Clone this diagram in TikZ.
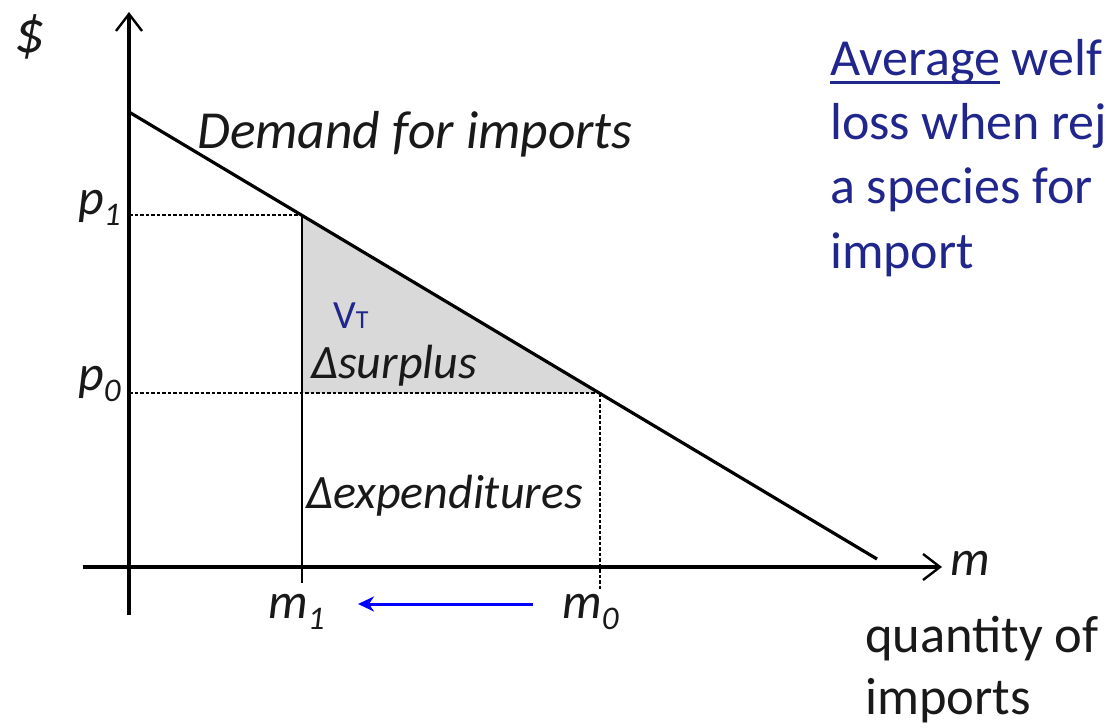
\documentclass[tikz,border=0pt]{standalone}
\usepackage{fontspec}
\setmainfont{Carlito}
\usetikzlibrary{arrows.meta}
\definecolor{navy}{RGB}{32,38,140}
\definecolor{areagray}{RGB}{217,217,217}
\definecolor{ink}{RGB}{25,25,25}
\newcommand\mysub[1]{\raisebox{-11pt}{\fontsize{33}{33}\selectfont #1}}
\newcommand\thickul[1]{\setbox0\hbox{#1}\rlap{\raisebox{-9pt}{\rule{\wd0}{3pt}}}\box0\relax}
\begin{document}
\begin{tikzpicture}[x=1pt,y=-1pt,
  axis/.style={line width=3.2pt,-{Straight Barb[length=17pt,width=26pt,line width=2.4pt]}},
  demand/.style={line width=3.2pt},
  guide/.style={line width=1.2pt,dash pattern=on 3.5pt off 2pt},
  vline/.style={line width=1.6pt},
  lbl/.style={inner sep=0pt,anchor=base west,text=ink,font=\fontsize{50}{60}\selectfont\itshape},
  area/.style={inner sep=0pt,anchor=base west,text=ink,font=\fontsize{48}{56}\selectfont\itshape},
  note/.style={inner sep=0pt,anchor=base west,text=navy,font=\fontsize{52}{64}\selectfont},
  plain/.style={inner sep=0pt,anchor=base west,text=ink,font=\fontsize{52.5}{64}\selectfont},
  move/.style={blue,line width=3pt,-{Stealth[length=16pt,width=15pt,inset=5pt]}}]
\useasboundingbox (0,0) rectangle (1109,728);
% key points
\coordinate (O) at (129,567);
\coordinate (xl) at (83,567);
\coordinate (xr) at (942,567);
\coordinate (yb) at (129,615);
\coordinate (yt) at (129,12);
\coordinate (d0) at (129,112);
\coordinate (d1) at (877,559);
\coordinate (P1) at (302,215);
\coordinate (P0) at (600,393);
\coordinate (c1) at (302,393);
\coordinate (a1) at (129,215);
\coordinate (a0) at (129,393);
\coordinate (b1) at (302,583);
\coordinate (b0) at (600,590);
\coordinate (s) at (533,604);
\coordinate (e) at (358,604);
% surplus area
\fill[areagray] (P1) -- (c1) -- (P0) -- cycle;
% guides
\draw[guide] (a1) -- (P1);
\draw[guide] (a0) -- (P0);
\draw[guide] (P0) -- (b0);
\draw[vline] (P1) -- (b1);
% axes and demand
\draw[axis] (xl) -- (xr);
\draw[axis] (yb) -- (yt);
\draw[demand] (d0) -- (d1);
\draw[move] (s) -- (e);
% labels
\node[lbl,font=\fontsize{60}{70}\selectfont\itshape] (dollar) at (14,52) {\$};
\node[lbl,font=\fontsize{53.5}{64}\selectfont\itshape] (dem) at (197,148) {Demand for imports};
\node[lbl] (p1) at (78,214) {p\mysub{1}};
\node[lbl] (p0) at (78,390) {p\mysub{0}};
\node[lbl] (m1) at (268,618) {m\mysub{1}};
\node[lbl] (m0) at (562,618) {m\mysub{0}};
\node[lbl] (mlab) at (950,575) {m};
\node[inner sep=0pt,anchor=base west,text=navy,font=\fontsize{40}{48}\selectfont] (vt) at (333,328) {V{\fontsize{26}{30}\selectfont T}};
\node[area] (surp) at (311,378) {Δsurplus};
\node[area] (expd) at (306,508) {Δexpenditures};
\node[note] (r1) at (830,75) {\thickul{Average} welf};
\node[note] (r2) at (830,139) {loss when rej};
\node[note] (r3) at (830,203) {a species for};
\node[note] (r4) at (830,268) {import};
\node[plain] (q1) at (865,652) {quantity of};
\node[plain] (q2) at (865,714) {imports};
\end{tikzpicture}
\end{document}
